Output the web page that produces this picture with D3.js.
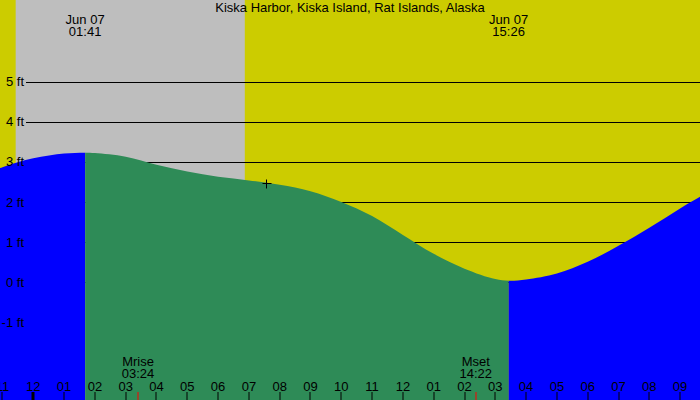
<!DOCTYPE html>
<html lang="en">
<head>
<meta charset="UTF-8">
<title>Kiska Harbor tide</title>
<script src="https://d3js.org/d3.v7.min.js"></script>
<style>
  html, body { margin: 0; padding: 0; background: #fff; }
  svg { display: block; font-family: "Liberation Sans", Arial, sans-serif; font-size: 13px; }
</style>
</head>
<body>
<div id="chart"></div>
<script>
  const width = 700;
  const height = 400;

  const title = "Kiska Harbor, Kiska Island, Rat Islands, Alaska";

  // hourly predicted heights (hours from midnight Jun 07, feet)
  const tideHours = [-2, -1, 0, 1, 2, 3, 4, 5, 6, 7, 8, 9, 10, 11, 12, 13, 14, 15, 16, 17, 18, 19, 20, 21, 22];
  const tideFeet = [2.55, 2.87, 3.09, 3.21, 3.22, 3.13, 2.93, 2.76, 2.63, 2.54, 2.43, 2.27, 2.00, 1.65, 1.18, 0.71, 0.34, 0.08, 0.07, 0.22, 0.51, 0.91, 1.36, 1.84, 2.29];

  // high / low tide
  const extremeTimes = ["01:41", "15:26"];
  const extremeFeet = [3.23, 0.04];
  const extremeDates = ["Jun 07", "Jun 07"];

  // sun (night = between sunset and sunrise)
  const sunsetTime = -0.572;   // 23:26 Jun 06
  const sunriseTime = "06:52";

  // moon
  const moonLabels = ["Mrise", "Mset"];
  const moonTimes = ["03:24", "14:22"];

  const nowTime = "07:34";

  const feetTicks = [-1, 0, 1, 2, 3, 4, 5];
  const hourTicks = d3.range(-1, 22);

  const toH = s => { const [h, m] = s.split(":").map(Number); return h + m / 60; };

  const x = d3.scaleLinear().domain([-1.081, 21.646]).range([0, width]);
  const y = d3.scaleLinear().domain([0, 5]).range([282.3, 81.7]);

  const svg = d3.select("#chart").append("svg")
    .attr("width", width).attr("height", height);

  // day / night background
  svg.append("rect").attr("width", width).attr("height", height).attr("fill", "#cccc00");
  svg.append("rect")
    .attr("x", x(sunsetTime)).attr("y", 0)
    .attr("width", x(toH(sunriseTime)) - x(sunsetTime)).attr("height", height)
    .attr("fill", "#bebebe");

  // grid lines
  svg.append("g").selectAll("line").data(feetTicks.filter(d => d > -1)).join("line")
    .attr("x1", 26).attr("x2", width)
    .attr("y1", d => Math.round(y(d)) + 0.5).attr("y2", d => Math.round(y(d)) + 0.5)
    .attr("stroke", "#000").attr("stroke-width", 1);

  // tide curve
  const pts = tideHours.map((t, i) => ({ t, ft: tideFeet[i] }))
    .concat(extremeTimes.map((s, i) => ({ t: toH(s), ft: extremeFeet[i] })))
    .sort((a, b) => a.t - b.t);

  const area = d3.area()
    .x(d => x(d.t)).y0(height).y1(d => y(d.ft))
    .curve(d3.curveCatmullRom.alpha(0.5));

  const cuts = [x.domain()[0] - 1, toH(extremeTimes[0]), toH(extremeTimes[1]), x.domain()[1] + 1];
  const fills = ["#0000ff", "#2e8b57", "#0000ff"];
  const defs = svg.append("defs");
  fills.forEach((c, i) => {
    defs.append("clipPath").attr("id", "seg" + i).append("rect")
      .attr("x", x(cuts[i])).attr("y", 0)
      .attr("width", x(cuts[i + 1]) - x(cuts[i])).attr("height", height);
    svg.append("path").datum(pts)
      .attr("d", area).attr("fill", c)
      .attr("clip-path", `url(#seg${i})`);
  });

  // feet labels
  svg.append("g").selectAll("text").data(feetTicks).join("text")
    .attr("x", 24).attr("y", d => y(d) + 4.5)
    .attr("text-anchor", "end")
    .text(d => d + " ft");

  // title
  svg.append("text").attr("x", width / 2).attr("y", 12)
    .attr("text-anchor", "middle").text(title);

  // extremes labels
  const ext = svg.append("g").selectAll("g").data(extremeTimes).join("g");
  ext.append("text").attr("x", d => x(toH(d))).attr("y", 24)
    .attr("text-anchor", "middle").text((d, i) => extremeDates[i]);
  ext.append("text").attr("x", d => x(toH(d))).attr("y", 36)
    .attr("text-anchor", "middle").text(d => d);

  // hour axis
  const fmtHour = h => String(((h % 12) + 12) % 12 || 12).padStart(2, "0");
  const axis = svg.append("g");
  axis.selectAll("text").data(hourTicks).join("text")
    .attr("x", d => x(d)).attr("y", 390.5)
    .attr("text-anchor", "middle").text(fmtHour);
  axis.selectAll("rect").data(hourTicks).join("rect")
    .attr("x", d => Math.round(x(d)) - (d % 24 === 0 ? 1.5 : 0.5))
    .attr("y", 392).attr("width", d => d % 24 === 0 ? 3 : 1).attr("height", 8)
    .attr("fill", "#000");

  // moon rise / set
  const moon = svg.append("g").selectAll("g").data(moonTimes).join("g");
  moon.append("text").attr("x", d => x(toH(d))).attr("y", 366)
    .attr("text-anchor", "middle").text((d, i) => moonLabels[i]);
  moon.append("text").attr("x", d => x(toH(d))).attr("y", 378)
    .attr("text-anchor", "middle").text(d => d);
  moon.append("rect").attr("x", d => Math.round(x(toH(d))) - 0.5).attr("y", 392)
    .attr("width", 1).attr("height", 8).attr("fill", "#ff0000");

  // current time marker
  const nx = Math.round(x(toH(nowTime))) + 0.5;
  const ny = Math.round(y(2.47)) + 0.5;
  svg.append("path")
    .attr("d", `M${nx - 4},${ny}H${nx + 5}M${nx},${ny - 4}V${ny + 5}`)
    .attr("stroke", "#000").attr("stroke-width", 1).attr("fill", "none");
</script>
</body>
</html>
